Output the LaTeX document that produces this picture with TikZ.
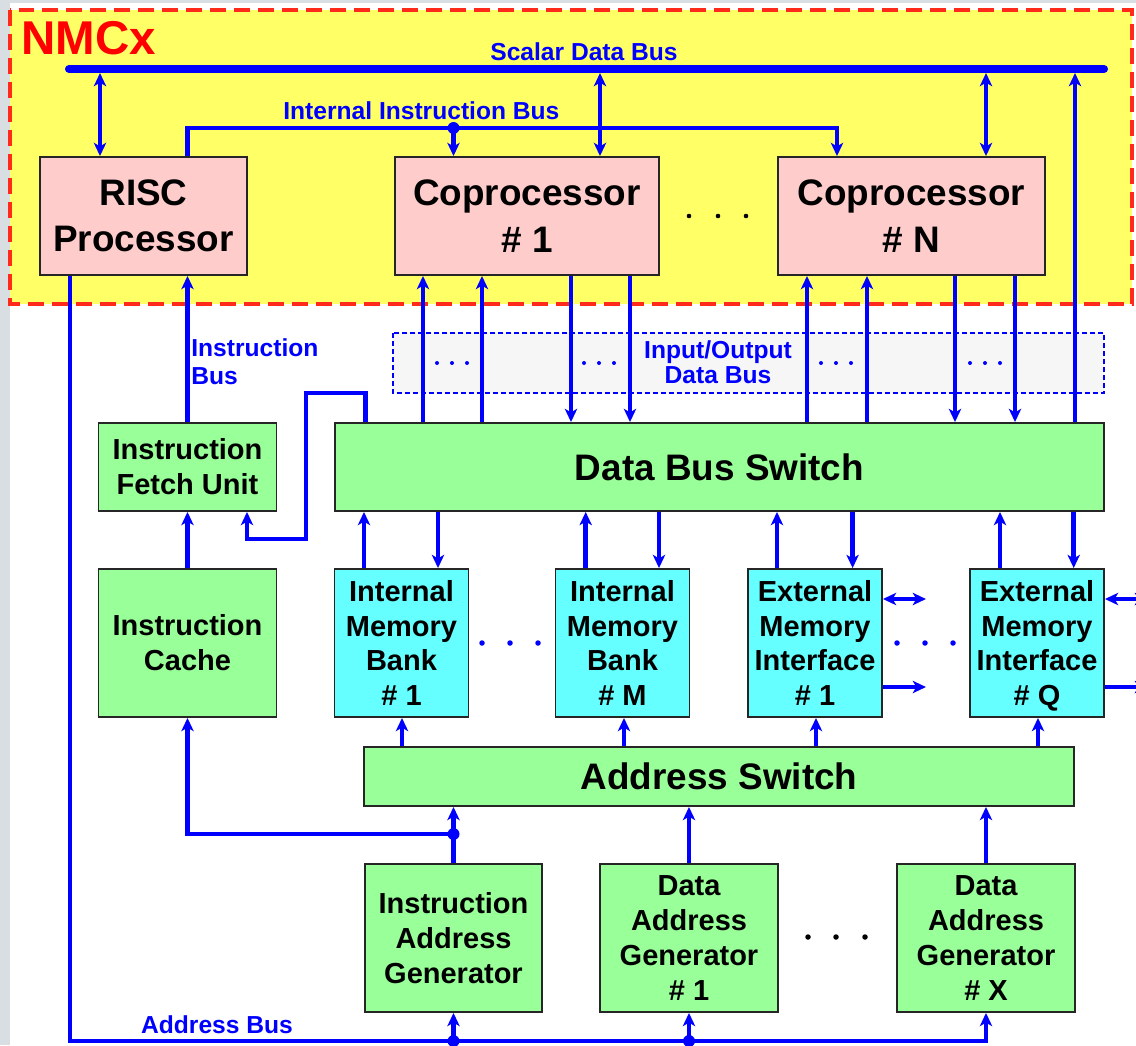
\documentclass[tikz,border=0pt]{standalone}
\usepackage{fontspec}
\setmainfont{Liberation Sans}
\usetikzlibrary{calc,arrows.meta}
\definecolor{edge}{HTML}{D9DEE3}
\definecolor{chip}{HTML}{FFFF66}
\definecolor{chipline}{HTML}{FF2A1A}
\definecolor{cpu}{HTML}{FFCCCC}
\definecolor{unit}{HTML}{99FF99}
\definecolor{mem}{HTML}{66FFFF}
\definecolor{wirec}{HTML}{0000FF}
\definecolor{iofill}{HTML}{F6F6F6}
\tikzset{
  blk/.style={draw=black!85, line width=1.1pt, inner sep=0pt, align=center, font=\fontsize{16.5}{19.8}\selectfont\bfseries},
  bigblk/.style={blk, font=\fontsize{21}{26.5}\selectfont\bfseries},
  cpubox/.style={bigblk, fill=cpu, minimum height=2.36cm},
  unitbox/.style={blk, fill=unit},
  membox/.style={blk, fill=mem, minimum width=2.68cm, minimum height=2.96cm},
  wire/.style={draw=wirec, line width=2.6pt},
  sbus/.style={draw=wirec, line width=4.6pt, line cap=round},
  jdot/.style={circle, fill=wirec, inner sep=0pt, minimum size=0.24cm},
  buslab/.style={text=wirec, font=\fontsize{14}{16.4}\selectfont\bfseries, inner sep=0pt},
}

\begin{document}
\begin{tikzpicture}[x=0.02cm, y=-0.02cm, >={Stealth[length=7.5pt,width=7pt,inset=2pt]}]
  \fill[edge] (0,0) rectangle (1136,1045);
  \fill[white] (10,3) rectangle (1136,1045);
  \useasboundingbox (0,0) rectangle (1136,1045);
  \draw[fill=chip, draw=chipline, line width=1.8pt, dash pattern=on 0.32cm off 0.16cm] (10,10) rectangle (1132,304);
  \draw[fill=iofill, draw=wirec, line width=0.7pt, dash pattern=on 0.1cm off 0.06cm] (393,333) rectangle (1104,393);
  \node[text=red, font=\fontsize{27}{27}\selectfont\bfseries, anchor=base west, inner sep=0pt] (chipname) at (21,54) {NMCx};

  \node[cpubox, minimum width=4.14cm] (risc) at (143.5,216) {RISC\\Processor};
  \node[cpubox, minimum width=5.28cm] (cop1) at (527,216) {Coprocessor\\\# 1};
  \node[cpubox, minimum width=5.34cm] (copN) at (911.5,216) {Coprocessor\\\# N};
  \node[unitbox, minimum width=3.56cm, minimum height=1.76cm] (ifu) at (187.5,467) {Instruction\\Fetch Unit};
  \node[bigblk, fill=unit, minimum width=15.38cm, minimum height=1.76cm] (dbs) at (719.5,467) {Data Bus Switch};
  \node[unitbox, minimum width=3.56cm, minimum height=2.96cm] (icache) at (187.5,643) {Instruction\\Cache};
  \node[membox] (imb1) at (401.5,643) {Internal\\Memory\\Bank\\\# 1};
  \node[membox] (imbM) at (622.5,643) {Internal\\Memory\\Bank\\\# M};
  \node[membox] (emi1) at (815,643) {External\\Memory\\Interface\\\# 1};
  \node[membox] (emiQ) at (1037,643) {External\\Memory\\Interface\\\# \smash{Q}};
  \node[bigblk, fill=unit, minimum width=14.2cm, minimum height=1.18cm] (asw) at (719,776.5) {Address Switch};
  \node[unitbox, minimum width=3.54cm, minimum height=2.96cm] (iag) at (453.5,938) {Instruction\\Address\\Generator};
  \node[unitbox, minimum width=3.56cm, minimum height=2.96cm] (dag1) at (689,938) {Data\\Address\\Generator\\\# 1};
  \node[unitbox, minimum width=3.56cm, minimum height=2.96cm] (dagX) at (986,938) {Data\\Address\\Generator\\\# X};

  \node[buslab, anchor=base] (sdblab) at (584,60) {Scalar Data Bus};
  \node[buslab, anchor=base west] (iiblab) at (283,119) {Internal Instruction Bus};
  \node[buslab, align=left, anchor=north west] (iblab) at (191,338) {Instruction\\Bus};
  \node[buslab, align=center, anchor=north, font=\fontsize{14}{14.2}\selectfont\bfseries] (iolab) at (718,340) {Input/Output\\Data Bus};
  \node[buslab, anchor=base] (ablab) at (217,1033) {Address Bus};

  \draw[sbus] (69,69) -- (1104,69);
  \coordinate (sdb) at (0,73);
  \draw[wire,<->] (100,0 |- sdb) -- (100,0 |- risc.north);
  \draw[wire,<->] (600,0 |- sdb) -- (600,0 |- cop1.north);
  \draw[wire,<->] (986,0 |- sdb) -- (986,0 |- copN.north);
  \draw[wire,->] (1075,0 |- dbs.north) -- (1075,0 |- sdb);

  \coordinate (iib) at (837,128);
  \node[jdot] (jib) at (453.5,128) {};
  \draw[wire,->] (187.5,0 |- risc.north) |- (iib) -- (iib |- copN.north);
  \draw[wire,->] (jib.center) -- (jib |- cop1.north);

  \foreach \x in {423,482} \draw[wire,->] (\x,0 |- dbs.north) -- (\x,0 |- cop1.south);
  \foreach \x in {571,630} \draw[wire,->] (\x,0 |- cop1.south) -- (\x,0 |- dbs.north);
  \foreach \x in {807,867} \draw[wire,->] (\x,0 |- dbs.north) -- (\x,0 |- copN.south);
  \foreach \x in {955,1015} \draw[wire,->] (\x,0 |- copN.south) -- (\x,0 |- dbs.north);

  \draw[wire,->] (ifu.north) -- (risc.south -| ifu.north);
  \draw[wire,->] (icache.north) -- (ifu.south);
  \draw[wire,->] (365.5,0 |- dbs.north) |- (306,393) |- (247,539) -- (247,0 |- ifu.south);
  \node[jdot] (jas) at (453.5,834) {};
  \draw[wire,->] (jas.center) -| (icache.south);
  \draw[wire,->] (iag.north) -- (asw.south -| iag.north);
  \draw[wire,->] (dag1.north) -- (asw.south -| dag1.north);
  \draw[wire,->] (dagX.north) -- (asw.south -| dagX.north);

  \foreach \b/\u/\d/\a in {imb1/364/438/402, imbM/585.7/659/624, emi1/777/852.6/816, emiQ/1000/1073.7/1038} {
    \draw[wire,->] (\u,0 |- \b.north) -- (\u,0 |- dbs.south);
    \draw[wire,->] (\d,0 |- dbs.south) -- (\d,0 |- \b.north);
    \draw[wire,->] (\a,0 |- asw.north) -- (\a,0 |- \b.south);
  }
  \foreach \b in {emi1,emiQ} {
    \draw[wire,<->] (\b.east |- 0,599) -- ++(43,0);
    \draw[wire,->] (\b.east |- 0,687) -- ++(43,0);
  }

  \coordinate (abus) at (0,1041);
  \node[jdot] (jab1) at (453.5,1041) {};
  \node[jdot] (jab2) at (689,1041) {};
  \draw[wire,->] (70,0 |- risc.south) |- (dagX.south |- abus) -- (dagX.south);
  \draw[wire,->] (jab1.center) -- (iag.south);
  \draw[wire,->] (jab2.center) -- (dag1.south);

  \foreach \x in {689,718,746} \fill (\x,216) circle (0.046cm);
  \foreach \c in {452,599,836,985} \foreach \d in {-15,0,15} \fill[wirec] (\c+\d,363) circle (0.04cm);
  \foreach \x in {482,510,538,897,925,953} \fill[wirec] (\x,643) circle (0.055cm);
  \foreach \x in {808,836,865} \fill (\x,937) circle (0.055cm);
\end{tikzpicture}
\end{document}
